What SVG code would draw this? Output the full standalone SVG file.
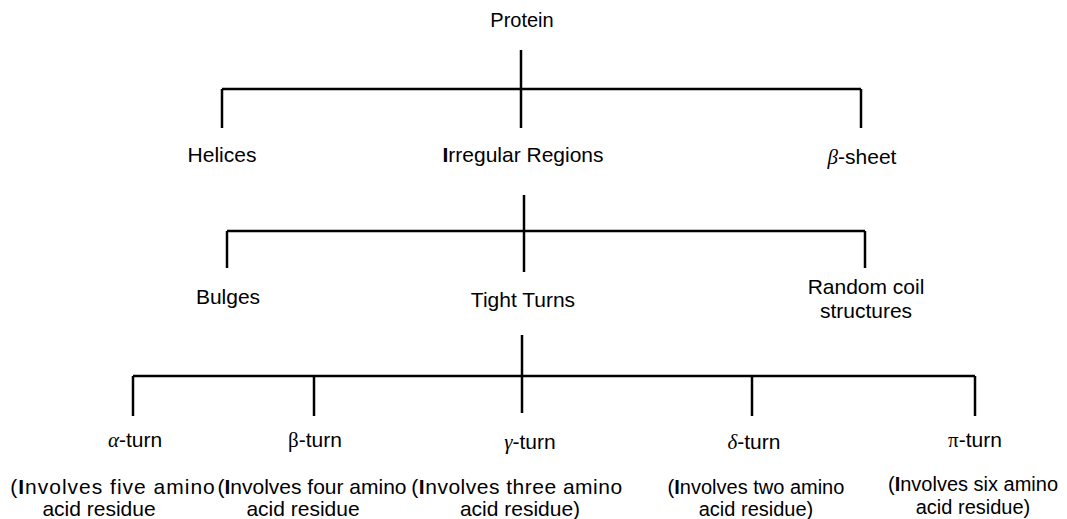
<svg xmlns="http://www.w3.org/2000/svg" width="1067" height="519" viewBox="0 0 1067 519">
<style>
text{font-family:"Liberation Sans",Arial,sans-serif;font-size:21px;fill:#000;text-anchor:middle}
.g{font-family:"Liberation Serif","Times New Roman",serif;font-style:italic}
.gu{font-family:"Liberation Serif","Times New Roman",serif}
.bd{font-weight:bold}
.s{font-size:20px}
.c line{stroke:#000;stroke-width:2.5;fill:none}
</style>
<rect width="1067" height="519" fill="#fff"/>
<g class="c" id="connectors">
<line x1="521" y1="50" x2="521" y2="128"/>
<line x1="222" y1="89" x2="861" y2="89"/>
<line x1="222" y1="89" x2="222" y2="128"/>
<line x1="861" y1="89" x2="861" y2="128"/>
<line x1="524" y1="195" x2="524" y2="272"/>
<line x1="227" y1="231" x2="865" y2="231"/>
<line x1="227" y1="231" x2="227" y2="268"/>
<line x1="865" y1="231" x2="865" y2="268"/>
<line x1="522" y1="335" x2="522" y2="413"/>
<line x1="133" y1="376" x2="975" y2="376"/>
<line x1="133" y1="376" x2="133" y2="416"/>
<line x1="314" y1="376" x2="314" y2="416"/>
<line x1="752" y1="376" x2="752" y2="416"/>
<line x1="975" y1="376" x2="975" y2="416"/>
</g>
<g id="protein"><text class="s" x="522" y="27">Protein</text></g>
<g id="helices"><text x="222" y="162">Helices</text></g>
<g id="irregular"><text x="523" y="162"><tspan class="bd">I</tspan>rregular Regions</text></g>
<g id="betasheet"><text x="862" y="164"><tspan class="g">β</tspan>-sheet</text></g>
<g id="bulges"><text x="228" y="304">Bulges</text></g>
<g id="tightturns"><text x="523" y="307">Tight Turns</text></g>
<g id="randomcoil"><text x="866" y="294">Random coil</text><text x="866" y="318">structures</text></g>
<g id="alphaturn"><text x="135" y="447"><tspan class="g">α</tspan>-turn</text>
<text x="113" y="494" style="letter-spacing:1px">(<tspan class="bd">I</tspan>nvolves five amino</text><text x="99" y="516">acid residue</text></g>
<g id="betaturn"><text x="315" y="447"><tspan class="gu">β</tspan>-turn</text>
<text x="312" y="494">(<tspan class="bd">I</tspan>nvolves four amino</text><text x="303" y="516">acid residue</text></g>
<g id="gammaturn"><text x="530" y="449"><tspan class="g">γ</tspan>-turn</text>
<text x="517" y="494" style="letter-spacing:0.5px">(<tspan class="bd">I</tspan>nvolves three amino</text><text x="520" y="516">acid residue)</text></g>
<g id="deltaturn"><text x="754" y="449"><tspan class="g">δ</tspan>-turn</text>
<text class="s" x="756" y="494">(<tspan class="bd">I</tspan>nvolves two amino</text><text class="s" x="756" y="516">acid residue)</text></g>
<g id="piturn"><text x="975" y="447"><tspan class="gu">π</tspan>-turn</text>
<text class="s" x="973" y="491">(<tspan class="bd">I</tspan>nvolves six amino</text><text class="s" x="973" y="514">acid residue)</text></g>
</svg>
